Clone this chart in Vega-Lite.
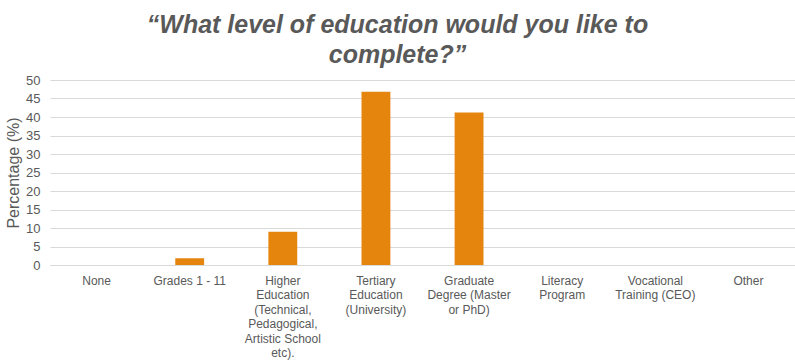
{
  "$schema": "https://vega.github.io/schema/vega-lite/v6.json",
  "width": 745,
  "height": 185,
  "autosize": {"type": "none"},
  "padding": {"left": 50, "top": 80, "right": 0, "bottom": 99},
  "background": "white",
  "title": {
    "text": ["“What level of education would you like to", "complete?”"],
    "font": "Liberation Sans, Arial",
    "fontSize": 25,
    "fontWeight": "bold",
    "fontStyle": "italic",
    "color": "#595959",
    "lineHeight": 30,
    "anchor": "middle",
    "dx": -25,
    "offset": 6
  },
  "data": {
    "values": [
      {"category": "None", "value": 0},
      {"category": "Grades 1 - 11", "value": 1.8},
      {"category": "Higher\nEducation\n(Technical,\nPedagogical,\nArtistic School\netc).", "value": 9},
      {"category": "Tertiary\nEducation\n(University)", "value": 46.8},
      {"category": "Graduate\nDegree (Master\nor PhD)", "value": 41.2},
      {"category": "Literacy\nProgram", "value": 0},
      {"category": "Vocational\nTraining (CEO)", "value": 0},
      {"category": "Other", "value": 0}
    ]
  },
  "mark": {"type": "bar", "color": "#E6850E"},
  "encoding": {
    "x": {
      "field": "category",
      "type": "nominal",
      "sort": null,
      "scale": {"paddingInner": 0.69, "paddingOuter": 0.345},
      "axis": {
        "title": null,
        "labelAngle": 0,
        "labelExpr": "split(datum.label, '\\n')",
        "labelFont": "Liberation Sans, Arial",
        "labelFontSize": 12,
        "labelColor": "#595959",
        "labelLineHeight": 14.5,
        "labelPadding": 10,
        "labelLimit": 200,
        "ticks": false,
        "domainColor": "#d9d9d9",
        "domainWidth": 1
      }
    },
    "y": {
      "field": "value",
      "type": "quantitative",
      "scale": {"domain": [0, 50], "nice": false},
      "axis": {
        "title": "Percentage (%)",
        "titleFont": "Liberation Sans, Arial",
        "titleFontSize": 16,
        "titleFontWeight": "normal",
        "titleColor": "#595959",
        "titlePadding": 4,
        "values": [0, 5, 10, 15, 20, 25, 30, 35, 40, 45, 50],
        "labelFont": "Liberation Sans, Arial",
        "labelFontSize": 13,
        "labelColor": "#595959",
        "labelPadding": 10,
        "ticks": false,
        "domain": false,
        "gridColor": "#d9d9d9",
        "gridWidth": 1
      }
    }
  },
  "config": {"view": {"stroke": null}}
}
